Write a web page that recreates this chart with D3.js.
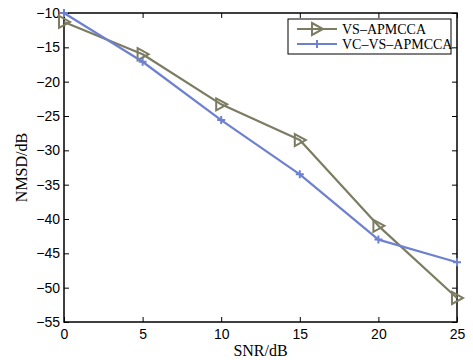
<!DOCTYPE html>
<html>
<head>
<meta charset="utf-8">
<script src="https://cdn.jsdelivr.net/npm/d3@7"></script>
<style>
  body { margin: 0; background: #fff; }
  svg { display: block; }
</style>
</head>
<body>
<svg id="chart" width="473" height="360"></svg>
<script>
var snr = [0, 5, 10, 15, 20, 25];
var vsApmcca = [-11.3, -16, -23.3, -28.5, -41, -51.5];
var vcVsApmcca = [-10, -17.1, -25.6, -33.5, -43, -46.3];
var xTicks = [0, 5, 10, 15, 20, 25];
var yTicks = [-10, -15, -20, -25, -30, -35, -40, -45, -50, -55];
var seriesNames = ["VS\u2013APMCCA", "VC\u2013VS\u2013APMCCA"];

var svg = d3.select("#chart"),
    margin = {top: 13, right: 16, bottom: 38, left: 64},
    width = +svg.attr("width") - margin.left - margin.right,
    height = +svg.attr("height") - margin.top - margin.bottom;

var x = d3.scaleLinear().domain([0, 25]).range([0, width]);
var y = d3.scaleLinear().domain([-55, -10]).range([height, 0]);

var g = svg.append("g")
    .attr("transform", "translate(" + margin.left + "," + margin.top + ")");

var tickFont = "'Liberation Sans', Arial, sans-serif";
var serif = "'Liberation Serif', 'Times New Roman', serif";

function styleAxis(sel, showText) {
    sel.select(".domain").remove();
    sel.selectAll(".tick line").attr("stroke", "#000").attr("stroke-width", 1);
    sel.selectAll(".tick text")
        .attr("font-family", tickFont)
        .attr("font-size", 14)
        .attr("fill", "#000");
    if (!showText) sel.selectAll(".tick text").remove();
}

var fmt = function(d) { return d < 0 ? "\u2212" + Math.abs(d) : d; };

g.append("g")
    .attr("transform", "translate(0," + height + ")")
    .call(d3.axisBottom(x).tickValues(xTicks).tickSizeInner(-5).tickPadding(7).tickFormat(fmt))
    .call(styleAxis, true);
g.append("g")
    .call(d3.axisTop(x).tickValues(xTicks).tickSizeInner(-5))
    .call(styleAxis, false);
g.append("g")
    .call(d3.axisLeft(y).tickValues(yTicks).tickSizeInner(-5).tickPadding(4).tickFormat(fmt))
    .call(styleAxis, true);
g.append("g")
    .attr("transform", "translate(" + width + ",0)")
    .call(d3.axisRight(y).tickValues(yTicks).tickSizeInner(-5))
    .call(styleAxis, false);

g.append("rect")
    .attr("width", width)
    .attr("height", height)
    .attr("fill", "none")
    .attr("stroke", "#000")
    .attr("stroke-width", 1.5);

var colors = ["#7c7c63", "#6e80d0"];
var line = d3.line()
    .x(function(d) { return x(d[0]); })
    .y(function(d) { return y(d[1]); });

var series = [vsApmcca, vcVsApmcca];

function marker(sel, i, px, py) {
    if (i === 0) {
        sel.append("path")
            .attr("d", "M" + (px - 5) + "," + (py - 6) + "L" + (px + 6) + "," + py + "L" + (px - 5) + "," + (py + 6) + "Z")
            .attr("fill", "none")
            .attr("stroke", colors[i])
            .attr("stroke-width", 2);
    } else {
        sel.append("path")
            .attr("d", "M" + (px - 4) + "," + py + "H" + (px + 4) + "M" + px + "," + (py - 4) + "V" + (py + 4))
            .attr("stroke", colors[i])
            .attr("stroke-width", 2);
    }
}

series.forEach(function(vals, i) {
    var data = snr.map(function(s, j) { return [s, vals[j]]; });
    g.append("path")
        .datum(data)
        .attr("fill", "none")
        .attr("stroke", colors[i])
        .attr("stroke-width", 2.2)
        .attr("stroke-linejoin", "round")
        .attr("d", line);
    data.forEach(function(d) {
        marker(g, i, x(d[0]), y(d[1]));
    });
});

// legend
var lg = svg.append("g").attr("transform", "translate(288,19)");
lg.append("rect")
    .attr("width", 163)
    .attr("height", 35)
    .attr("fill", "#fff")
    .attr("stroke", "#000")
    .attr("stroke-width", 1);
seriesNames.forEach(function(name, i) {
    var ly = 10 + i * 15;
    lg.append("line")
        .attr("x1", 9).attr("x2", 49)
        .attr("y1", ly).attr("y2", ly)
        .attr("stroke", colors[i])
        .attr("stroke-width", 2.2);
    marker(lg, i, 29, ly);
    lg.append("text")
        .attr("x", 54)
        .attr("y", ly + 5)
        .attr("font-family", serif)
        .attr("font-size", 14)
        .text(name);
});

// axis titles
svg.append("text")
    .attr("x", margin.left + width / 2)
    .attr("y", 356)
    .attr("text-anchor", "middle")
    .attr("font-family", serif)
    .attr("font-size", 16)
    .text("SNR/dB");
svg.append("text")
    .attr("transform", "translate(27," + (margin.top + height / 2) + ") rotate(-90)")
    .attr("text-anchor", "middle")
    .attr("font-family", serif)
    .attr("font-size", 16)
    .text("NMSD/dB");
</script>
</body>
</html>
